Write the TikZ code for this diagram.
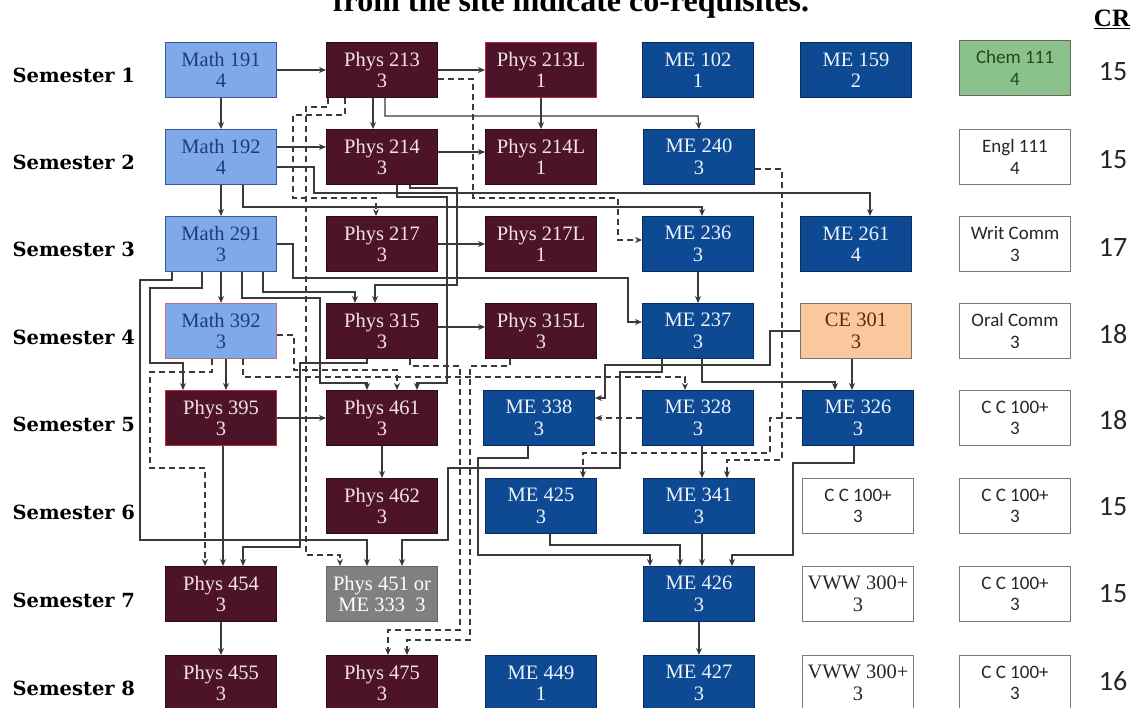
\documentclass[tikz,border=0pt]{standalone}
\usepackage{fontspec}
\setmainfont{Liberation Serif}
\newfontfamily\semfont{DejaVu Serif}
\newfontfamily\calfont{Carlito}
\usetikzlibrary{arrows.meta}
\definecolor{mathfill}{HTML}{80A9EA}
\definecolor{mathdraw}{HTML}{3A5A94}
\definecolor{mathtext}{HTML}{1E3A84}
\definecolor{physfill}{HTML}{4D1429}
\definecolor{physdraw}{HTML}{2E0A17}
\definecolor{phystext}{HTML}{F3E3E8}
\definecolor{redline}{HTML}{C42A33}
\definecolor{pinkline}{HTML}{C26A7A}
\definecolor{mefill}{HTML}{0E4A93}
\definecolor{medraw}{HTML}{0A2C5C}
\definecolor{metext}{HTML}{EEF3FA}
\definecolor{chemfill}{HTML}{8BC18B}
\definecolor{chemtext}{HTML}{1F4A1F}
\definecolor{cefill}{HTML}{F9C99D}
\definecolor{cetext}{HTML}{5B2B0C}
\definecolor{grayfill}{HTML}{808080}
\definecolor{linec}{HTML}{3A3A3A}
\definecolor{wdraw}{HTML}{7A7A7A}
\begin{document}
\begin{tikzpicture}[x=1pt,y=-1pt,
 box/.style={draw, line width=1pt, minimum width=111pt, minimum height=55pt, inner sep=0pt, align=center, font=\fontsize{20.5}{21.5}\selectfont},
 math/.style={box, fill=mathfill, draw=mathdraw, text=mathtext},
 phys/.style={box, fill=physfill, draw=physdraw, text=phystext},
 physr/.style={phys, draw=redline},
 me/.style={box, fill=mefill, draw=medraw, text=metext},
 wbox/.style={box, fill=white, draw=wdraw, text=black!85, font=\calfont\fontsize{19}{21.5}\selectfont},
 wsbox/.style={box, fill=white, draw=wdraw, text=black!85},
 sem/.style={anchor=west, font=\semfont\bfseries\fontsize{19.5}{21}\selectfont},
 crnum/.style={font=\calfont\fontsize{28}{28}\selectfont, text=black!85},
 arr/.style={draw=linec, line width=1.2pt, -{Stealth[length=7pt,width=6pt]}},
 darr/.style={arr, dash pattern=on 6pt off 4pt},
]
\clip (0,0) rectangle (1136,708);
\fill[white] (0,0) rectangle (1136,708);

% title and header
\node[anchor=base] (title) at (571,12) {\fontsize{32}{32}\selectfont\bfseries from the site indicate co-requisites.};
\node[anchor=base] (cr) at (1112,27) {\fontsize{25}{25}\selectfont\bfseries\underline{CR}};

% semester labels
\node[sem] (s1) at (9,75) {Semester 1};
\node[sem] (s2) at (9,162) {Semester 2};
\node[sem] (s3) at (9,249) {Semester 3};
\node[sem] (s4) at (9,337) {Semester 4};
\node[sem] (s5) at (9,424) {Semester 5};
\node[sem] (s6) at (9,512) {Semester 6};
\node[sem] (s7) at (9,600) {Semester 7};
\node[sem] (s8) at (9,688) {Semester 8};

% credit numbers
\node[crnum] (c1) at (1113,72) {15};
\node[crnum] (c2) at (1113,160) {15};
\node[crnum] (c3) at (1113,247) {17};
\node[crnum] (c4) at (1113,334) {18};
\node[crnum] (c5) at (1113,420) {18};
\node[crnum] (c6) at (1113,507) {15};
\node[crnum] (c7) at (1113,594) {15};
\node[crnum] (c8) at (1113,681) {16};

% column 1
\node[math] (m191) at (221,70) {Math 191\\4};
\node[math] (m192) at (221,157) {Math 192\\4};
\node[math] (m291) at (221,244) {Math 291\\3};
\node[math, draw=pinkline] (m392) at (221,331) {Math 392\\3};
\node[physr] (p395) at (221,418) {Phys 395\\3};
\node[phys] (p454) at (221,594) {Phys 454\\3};
\node[phys] (p455) at (221,683) {Phys 455\\3};

% column 2
\node[phys] (p213) at (382,70) {Phys 213\\3};
\node[phys] (p214) at (382,157) {Phys 214\\3};
\node[phys] (p217) at (382,244) {Phys 217\\3};
\node[phys] (p315) at (382,331) {Phys 315\\3};
\node[phys] (p461) at (382,418) {Phys 461\\3};
\node[phys] (p462) at (382,506) {Phys 462\\3};
\node[box, fill=grayfill, draw=black!60, text=white] (p451) at (382,594) {Phys 451 or\\ME 333~~3};
\node[phys] (p475) at (382,683) {Phys 475\\3};

% column 3
\node[physr] (p213L) at (541,70) {Phys 213L\\1};
\node[phys] (p214L) at (541,157) {Phys 214L\\1};
\node[phys] (p217L) at (541,244) {Phys 217L\\1};
\node[phys] (p315L) at (541,331) {Phys 315L\\3};
\node[me] (me338) at (539,418) {ME 338\\3};
\node[me] (me425) at (541,506) {ME 425\\3};
\node[me] (me449) at (541,683) {ME 449\\1};

% column 4
\node[me] (me102) at (698,70) {ME 102\\1};
\node[me] (me240) at (699,157) {ME 240\\3};
\node[me] (me236) at (698,244) {ME 236\\3};
\node[me] (me237) at (698,331) {ME 237\\3};
\node[me] (me328) at (698,418) {ME 328\\3};
\node[me] (me341) at (699,506) {ME 341\\3};
\node[me] (me426) at (699,594) {ME 426\\3};
\node[me] (me427) at (699,683) {ME 427\\3};

% column 5
\node[me] (me159) at (856,70) {ME 159\\2};
\node[me] (me261) at (856,244) {ME 261\\4};
\node[box, fill=cefill, draw=black!55, text=cetext] (ce301) at (856,331) {CE 301\\3};
\node[me] (me326) at (858,418) {ME 326\\3};
\node[wbox] (cc56) at (858,506) {C C 100+\\3};
\node[wsbox] (vww7) at (858,594) {VWW 300+\\3};
\node[wsbox] (vww8) at (858,683) {VWW 300+\\3};

% column 6
\node[box, fill=chemfill, draw=black!60, text=chemtext, font=\calfont\fontsize{19}{21.5}\selectfont] (chem) at (1015,68) {Chem 111\\4};
\node[wbox] (engl) at (1015,157) {Engl 111\\4};
\node[wbox] (writ) at (1015,244) {Writ Comm\\3};
\node[wbox] (oral) at (1015,331) {Oral Comm\\3};
\node[wbox] (cc5) at (1015,418) {C C 100+\\3};
\node[wbox] (cc6) at (1015,506) {C C 100+\\3};
\node[wbox] (cc7) at (1015,594) {C C 100+\\3};
\node[wbox] (cc8) at (1015,683) {C C 100+\\3};

% ---------- solid prerequisites ----------
\draw[arr] (m191.east) -- (p213.west);
\draw[arr] (m191.south) -- (m192.north);
\draw[arr] (p213.east) -- (p213L.west);
\draw[arr] ([xshift=-9pt]p213.south) -- ([xshift=-9pt]p214.north);
\draw[arr] (p213L.south) -- (p214L.north);
\draw[arr] ([yshift=10pt]m192.east) -- ([yshift=10pt]p214.west);
\draw[arr] ([yshift=5pt]p214.east) -- ([yshift=5pt]p214L.west);
\draw[arr] ([yshift=-10pt]m192.east) -| (314,193) -| ([xshift=14pt]me261.north);
\draw[arr] (m192.south) -- (m291.north);
\draw[arr] ([xshift=22pt]m192.south) |- (702,207) -- ([xshift=4pt]me236.north);
\draw[arr] ([xshift=3pt]p213.south) |- (698,116) -- (me240.north);
\draw[arr] ([xshift=28pt]p214.south) |- (457,188) |- ([xshift=-7pt]p315.north |- 0,285) -- ([xshift=-7pt]p315.north);
\draw[arr] ([xshift=15pt]p214.south) |- (447,197) |- (417,383) -- ([xshift=35pt]p461.north);
\draw[arr] (p217.east) -- (p217L.west);
\draw[arr] ([yshift=4pt]p315.east) -- ([yshift=4pt]p315L.west);
\draw[arr] (m291.south) -- (m392.north);
\draw[arr] (m291.east) -| (293,278) -| (628,322) -- ([yshift=9pt]me237.west);
\draw[arr] ([xshift=42pt]m291.south) |- (355,292) -- ([xshift=-27pt]p315.north);
\draw[arr] ([xshift=21pt]m291.south) |- (320,298) |- (367,383) -- ([xshift=-15pt]p461.north);
\draw[arr] ([xshift=-19pt]m291.south) |- (150,288) |- (183,363) -- ([xshift=-38pt]p395.north);
\draw[arr] ([xshift=-49pt]m291.south) |- (140,280) |- (367,540) -- ([xshift=-15pt]p451.north);
\draw[arr] ([xshift=5pt]m392.south) -- ([xshift=5pt]p395.north);
\draw[arr] (p395.east) -- (p461.west);
\draw[arr] ([xshift=2pt]p395.south) -- ([xshift=2pt]p454.north);
\draw[arr] (p461.south) -- (p462.north);
\draw[arr] ([xshift=-15pt]p315.south) |- (300,363) |- (243,547) -- ([xshift=22pt]p454.north);
\draw[arr] (p454.south) -- (p455.north);
\draw[arr] (me236.south) -- (me237.north);
\draw[arr] (ce301.west) -| (770,365) -| (605,398) -- ([yshift=20pt]me338.east);
\draw[arr] ([xshift=-4pt]ce301.south) -- ([xshift=-6pt]me326.north);
\draw[arr] ([xshift=4pt]me237.south) |- (835,382) -- ([xshift=-23pt]me326.north);
\draw[arr] ([xshift=-36pt]me237.south) |- (620,372) |- (448,468) |- (402,540) -- ([xshift=20pt]p451.north);
\draw[arr] ([xshift=4pt]me328.south) -- ([xshift=3pt]me341.north);
\draw[arr] ([xshift=-11pt]me338.south) |- (478,458) |- (650,555) -- ([xshift=-49pt]me426.north);
\draw[arr] ([xshift=9pt]me425.south) |- (680,545) -- ([xshift=-19pt]me426.north);
\draw[arr] ([xshift=3pt]me341.south) -- ([xshift=3pt]me426.north);
\draw[arr] ([xshift=-4pt]me326.south) |- (793,463) |- (732,555) -- ([xshift=33pt]me426.north);
\draw[arr] (me426.south) -- (me427.north);

% ---------- dashed co-requisites ----------
\draw[darr] ([yshift=-9pt]p213.east) -| (473,198) -| (618,240) -- ([yshift=4pt]me236.west);
\draw[darr] ([xshift=-37pt]p213.south) |- (293,115) |- (376,198) -- ([xshift=-6pt]p217.north);
\draw[darr] ([xshift=-54pt]p213.south) |- (306,107) |- (340,555) -- ([xshift=-42pt]p451.north);
\draw[darr] ([xshift=-9pt]m392.south) |- (150,372) |- (205,468) -- ([xshift=-16pt]p454.north);
\draw[darr] ([xshift=22pt]m392.south) |- (685,377) -- ([xshift=-13pt]me328.north);
\draw[darr] ([yshift=-4pt]m392.east) -| (294,370) -| ([xshift=15pt]p461.north);
\draw[darr] ([xshift=28pt]p315.south) |- (460,366) |- (388,630) -- ([xshift=6pt]p475.north);
\draw[darr] ([xshift=-31pt]p315L.south) |- (470,366) |- (407,640) -- ([xshift=25pt]p475.north);
\draw[darr] (me328.west) -- (me338.east);
\draw[darr] (me326.west) -| (770,453) -| ([xshift=42pt]me425.north);
\draw[darr] ([yshift=-12pt]me240.east) -| (782,460) -| ([xshift=28pt]me341.north);
\end{tikzpicture}
\end{document}
